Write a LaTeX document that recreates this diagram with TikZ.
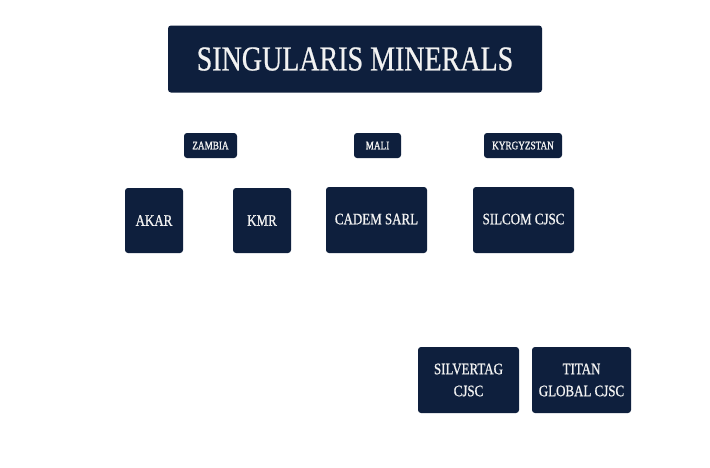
\documentclass[tikz,border=0pt]{standalone}
\usepackage{fontspec}
\setmainfont[FakeStretch=0.8]{Liberation Serif}
\newfontfamily\labelfont[FakeStretch=0.8,FakeBold=1.2]{Liberation Serif}
\newfontfamily\boxfont[FakeStretch=0.81,FakeBold=0.8]{Liberation Serif}
\newfontfamily\titlefont[FakeStretch=0.8,FakeBold=0.6]{Liberation Serif}
\definecolor{navy}{HTML}{0E1F3D}
\definecolor{txt}{HTML}{F2F2F2}
\begin{document}
\begin{tikzpicture}[x=1pt,y=-1pt,
  box/.style={fill=navy,rounded corners=3pt,text=txt,inner sep=0pt,align=center},
  title/.style={box,minimum width=374pt,minimum height=67pt,font=\titlefont\fontsize{35}{40}\selectfont},
  country/.style={box,minimum height=25pt,font=\labelfont\fontsize{11.5}{13}\selectfont},
  company/.style={box,minimum height=66pt,font=\boxfont\fontsize{16}{22}\selectfont}]
\useasboundingbox[fill=white] (0,0) rectangle (710,467);
\node[title] (sm) at (355,59) {SINGULARIS MINERALS};
\node[country,minimum width=53pt] (zambia) at (210.5,145.5) {ZAMBIA};
\node[country,minimum width=47pt] (mali) at (377.5,145.5) {MALI};
\node[country,minimum width=78pt] (kyrg) at (523,145.5) {KYRGYZSTAN};
\node[company,minimum width=58pt,minimum height=65pt] (akar) at (154,220.5) {AKAR};
\node[company,minimum width=58pt,minimum height=65pt] (kmr) at (262,220.5) {KMR};
\node[company,minimum width=101pt] (cadem) at (376.5,220) {\raisebox{2pt}{CADEM SARL}};
\node[company,minimum width=101pt] (silcom) at (523.5,220) {\raisebox{2pt}{SILCOM CJSC}};
\node[company,minimum width=101pt] (silvertag) at (468.5,380) {SILVERTAG\\CJSC};
\node[company,minimum width=99pt] (titan) at (581.5,380) {TITAN\\GLOBAL CJSC};
\end{tikzpicture}
\end{document}
